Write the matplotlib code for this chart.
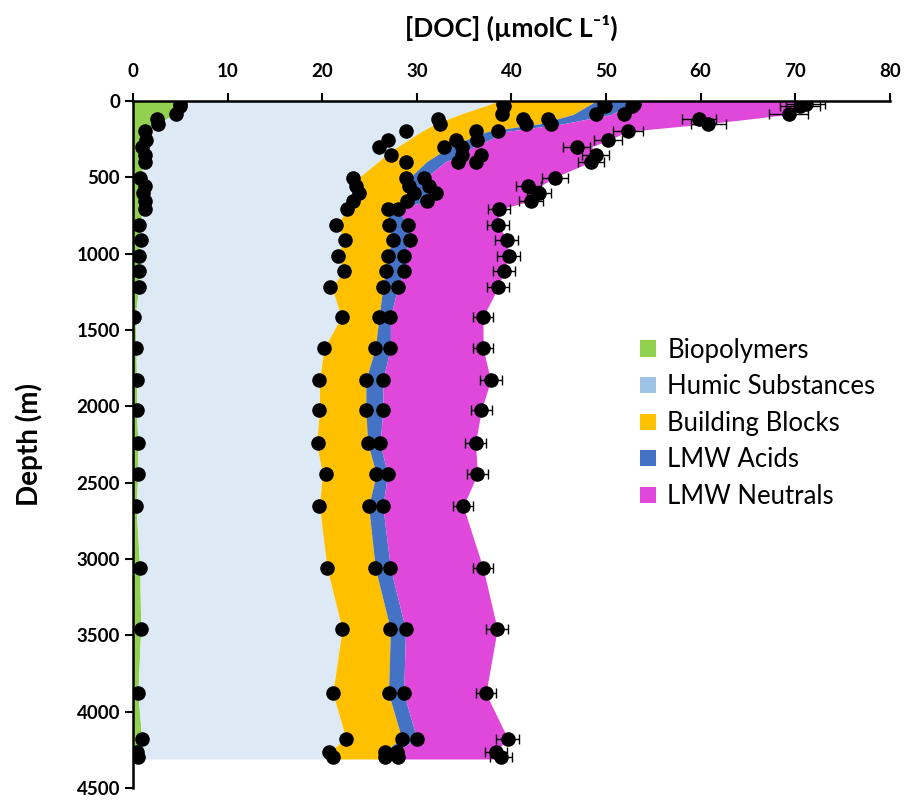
import matplotlib
matplotlib.use("Agg")
import matplotlib.pyplot as plt
from matplotlib.patches import Patch
import numpy as np

plt.rcParams['font.family'] = ['Lato', 'DejaVu Sans']

# averaged profile used for the stacked areas (cumulative DOC, umolC/L)
prof_depth = [0, 90, 150, 200, 260, 300, 360, 400, 500, 560, 610, 655, 710, 810, 910, 1015, 1115,
              1220, 1415, 1620, 1830, 2030, 2240, 2445, 2655, 3060, 3460, 3880, 4175, 4260, 4310]
prof_bio = [5.0, 4.3, 2.6, 1.3, 1.3, 1.0, 1.2, 1.1, 0.8, 1.1, 1.0, 1.2, 1.1, 0.6, 0.7, 0.6, 0.6,
            0.6, 0.2, 0.3, 0.35, 0.35, 0.5, 0.5, 0.3, 0.7, 0.8, 0.5, 0.9, 0.45, 0.5]
prof_hs = [38.8, 34.5, 32.0, 30.5, 29.0, 28.0, 26.6, 25.9, 23.9, 23.6, 23.6, 23.2, 22.6, 21.6, 22.3, 21.6, 22.3,
           21.0, 22.0, 20.2, 19.7, 19.7, 19.4, 20.0, 19.7, 20.5, 22.1, 21.1, 22.5, 20.8, 21.1]
prof_bb = [49.0, 46.5, 43.0, 37.5, 35.0, 33.5, 32.0, 31.0, 29.3, 29.2, 29.6, 29.0, 26.9, 27.0, 27.4, 26.9, 26.7,
           26.4, 26.0, 25.6, 24.6, 24.6, 24.8, 25.7, 24.9, 25.6, 27.2, 27.0, 28.4, 26.6, 26.6]
prof_lmwa = [53.3, 50.5, 45.5, 39.5, 37.5, 36.0, 34.5, 33.0, 31.0, 31.3, 32.0, 31.1, 28.0, 29.0, 29.3, 28.6, 28.6,
             28.0, 27.2, 27.2, 26.4, 26.4, 26.1, 26.9, 26.4, 27.2, 28.8, 28.6, 30.0, 27.9, 28.0]
prof_total = [71.1, 69.2, 60.8, 52.3, 50.2, 48.5, 48.9, 48.4, 44.6, 43.0, 42.9, 42.1, 38.7, 38.6, 39.5, 39.7, 39.2,
              38.6, 37.0, 37.0, 37.8, 36.8, 36.2, 36.4, 34.9, 37.0, 38.5, 37.3, 39.6, 38.4, 38.9]

# individual samples (cumulative values)
smp_depth = [22, 35, 85, 122, 153, 196, 257, 300, 356, 403, 506, 560, 607, 655, 711, 812, 912, 1015, 1113,
             1220, 1414, 1620, 1829, 2028, 2240, 2446, 2654, 3058, 3462, 3881, 4176, 4263, 4300]
smp_bio = [5.0, 4.9, 4.5, 2.5, 2.6, 1.3, 1.4, 0.95, 1.2, 1.2, 0.7, 1.2, 1.05, 1.3, 1.2, 0.6, 0.8, 0.6, 0.6,
           0.6, 0.1, 0.28, 0.36, 0.36, 0.53, 0.53, 0.28, 0.71, 0.78, 0.46, 0.88, 0.42, 0.53]
smp_hs = [39.1, 39.2, 39.0, 32.2, 32.4, 28.9, 26.9, 26.0, 27.3, 28.8, 23.2, 23.6, 23.9, 23.2, 22.6, 21.5, 22.4, 21.7, 22.3,
          20.8, 22.1, 20.2, 19.7, 19.7, 19.5, 20.4, 19.7, 20.5, 22.1, 21.1, 22.5, 20.7, 21.1]
smp_bb = [49.8, 49.9, 48.9, 41.2, 41.5, 36.3, 34.1, 32.9, 34.8, 34.4, 28.9, 29.2, 29.7, 29.0, 26.9, 27.1, 27.5, 26.9, 26.7,
          26.4, 26.0, 25.6, 24.6, 24.6, 24.8, 25.7, 24.9, 25.6, 27.2, 27.0, 28.4, 26.6, 26.6]
smp_lmwa = [53.0, 52.8, 51.9, 43.9, 44.2, 38.6, 36.4, 34.8, 36.8, 36.3, 30.8, 31.3, 32.0, 31.1, 28.0, 29.1, 29.3, 28.6, 28.6,
            28.0, 27.2, 27.2, 26.4, 26.4, 26.1, 26.9, 26.4, 27.2, 28.8, 28.6, 30.0, 27.9, 28.0]
smp_total = [71.1, 70.5, 69.3, 59.8, 60.8, 52.3, 50.2, 46.9, 48.9, 48.4, 44.6, 41.8, 42.9, 42.1, 38.7, 38.6, 39.5, 39.7, 39.2,
             38.6, 37.0, 37.0, 37.8, 36.8, 36.2, 36.4, 34.9, 37.0, 38.5, 37.3, 39.6, 38.4, 38.9]
smp_err = [2.1, 2.1, 2.1, 1.8, 1.85, 1.6, 1.5, 1.4, 1.45, 1.4, 1.35, 1.3, 1.25, 1.25, 1.15, 1.15, 1.2, 1.2, 1.2,
           1.15, 1.1, 1.1, 1.15, 1.1, 1.1, 1.1, 1.05, 1.1, 1.15, 1.1, 1.2, 1.15, 1.15]

labels = ["Biopolymers", "Humic Substances", "Building Blocks", "LMW Acids", "LMW Neutrals"]
fill_colors = ["#92D050", "#DDEAF6", "#FFC000", "#4472C4", "#E048DB"]
legend_colors = ["#92D050", "#9DC3E6", "#FFC000", "#4472C4", "#E048DB"]

fig = plt.figure(figsize=(9.06, 8.0), dpi=100)
ax = fig.add_axes([0.147, 0.015, 0.835, 0.859])

d = np.array(prof_depth)
layers = [np.zeros(len(d)), prof_bio, prof_hs, prof_bb, prof_lmwa, prof_total]
for i in range(5):
    ax.fill_betweenx(d, layers[i], layers[i + 1], color=fill_colors[i], lw=0, zorder=1)

ax.errorbar(smp_total, smp_depth, xerr=smp_err, fmt='none', ecolor='black', elinewidth=1.0,
            capsize=3.5, capthick=1.0, zorder=2)
for vals in [smp_bio, smp_hs, smp_bb, smp_lmwa, smp_total]:
    ax.scatter(vals, smp_depth, s=110, color='black', zorder=3, linewidths=0)

ax.set_xlim(0, 80)
ax.set_ylim(4500, 0)
ax.xaxis.tick_top()
ax.xaxis.set_label_position('top')
ax.set_xticks(range(0, 81, 10))
ax.set_yticks(range(0, 4501, 500))
ax.spines['bottom'].set_visible(False)
ax.spines['right'].set_visible(False)
ax.spines['top'].set_linewidth(1.8)
ax.spines['left'].set_linewidth(1.8)
ax.tick_params(axis='both', direction='out', length=6, width=1.5, labelsize=13.5)
ax.tick_params(axis='x', pad=9)
for lab in ax.get_xticklabels() + ax.get_yticklabels():
    lab.set_fontweight('bold')
ax.set_xlabel("[DOC] (µmolC L⁻¹)", fontsize=19, fontweight='bold', labelpad=19)
ax.set_ylabel("Depth (m)", fontsize=20, fontweight='bold', labelpad=24)

handles = [Patch(facecolor=c, edgecolor='none') for c in legend_colors]
ax.legend(handles, labels, loc='upper left', bbox_to_anchor=(0.64, 0.689), frameon=False,
          fontsize=18.5, handlelength=0.6, handleheight=0.6, labelspacing=0.45, handletextpad=0.45)

fig.savefig("out.png", dpi=100)
